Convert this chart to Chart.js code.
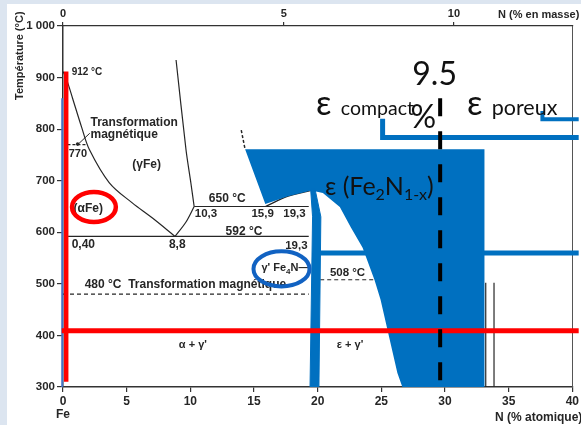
<!DOCTYPE html>
<html><head><meta charset="utf-8">
<script src="https://cdn.jsdelivr.net/npm/chart.js@4.4.0/dist/chart.umd.min.js"></script>
<style>html,body{margin:0;padding:0;background:#dce5f0;}canvas{display:block;}</style>
</head><body>
<canvas id="c" width="581" height="425"></canvas>
<script>
// ---------------- data ----------------
const atomicTicks = [0, 5, 10, 15, 20, 25, 30, 35, 40];          // N (% atomique)
const massTicks = [0, 5, 10];                                    // N (% en masse)
const massTickLabels = ['0', '5', '10'];
const tempTicks = [300, 400, 500, 600, 700, 800, 900, 1000];
const tempTickLabels = ['300', '400', '500', '600', '700', '800', '900', '1 000'];

// phase-diagram boundaries (x = at.% N, y = °C)
const gammaLeftX  = [0, 0.3, 0.75, 1.46, 2.08, 3.64, 5.44, 7.0, 8.8];
const gammaLeftT  = [912, 895, 860, 804, 760, 696, 657, 628, 592];
const gammaRightX = [8.88, 9.66, 10.04, 10.3];
const gammaRightT = [934, 760, 696, 650];
const gammaLowX   = [8.8, 9.66, 10.3];
const gammaLowT   = [592, 620, 650];
const iso650X = [10.3, 19.3];  const iso650T = [650, 650];
const iso592X = [0.4, 19.3];   const iso592T = [592, 592];
const epsEdgeX = [15.9, 17.68, 19.5]; const epsEdgeT = [650, 670, 681];
const mag480X = [0, 19.3];     const mag480T = [480, 480];
const iso508X = [20.2, 24.5];  const iso508T = [508, 508];
const mag770X = [0.35, 1.9];   const mag770T = [770, 770];
const epsDashX = [14.0, 14.3]; const epsDashT = [798, 761];
const v33aX = [33.2, 33.2];    const v33aT = [502, 300];
const v33bX = [33.85, 33.85];  const v33bT = [502, 300];
const arrowX = [2.1, 1.2];     const arrowT = [792, 771];
const dotX = [1.15];           const dotT = [771];

// highlighted regions / marks
const epsZoneX = [14.3, 33.1, 33.1, 26.65, 26.26, 24.94, 24.47, 23.53, 22.6, 21.74, 20.41, 19.5, 17.68, 15.89, 14.3];
const epsZoneT = [761, 761, 300, 300, 327, 469, 507, 570, 610, 649, 676, 681, 670, 655, 761];
const gpBarX = [19.45, 19.6, 19.4, 20.1, 20.25, 19.8, 19.45];
const gpBarT = [683, 630, 300, 300, 630, 683, 683];
const redVX = [0.25, 0.25];    const redVT = [912, 310];
const blueVX = [-0.06, -0.06]; const blueVT = [860, 300];
const redHX = [-0.1, 40.5];    const redHT = [409, 409];
const blueHX = [20.2, 40.5];   const blueHT = [560, 560];
const brk1X = [25.1, 25.1, 40.5]; const brk1T = [820, 784, 784];
const brk2X = [37.65, 37.65, 40.5]; const brk2T = [835, 819, 819];
const n95X = [29.62, 29.62];   const n95T = [860, 300];

// ---------------- helpers ----------------
const pts = (xs, ts) => xs.map((x, i) => ({x, y: ts[i]}));
const massToAtomic = m => { const n = m / 14.007, fe = (100 - m) / 55.845; return 100 * n / (n + fe); };
const INK = '#262626', BLUE = '#0070C0', RED = '#ff0000';
function line(xs, ts, o) {
  return Object.assign({type: 'scatter', showLine: true, data: pts(xs, ts), pointRadius: 0,
    borderColor: INK, borderWidth: 1.2, fill: false, tension: 0, order: 100}, o || {});
}

const SF = 'Liberation Sans, Arial, sans-serif';
const BF = 'Lato, "Open Sans", "DejaVu Sans", sans-serif';
// annotations: [segments], x, y (data units)
const smallLabels = [
  {x: 0.68, y: 905, seg: [['912 °C', 'bold 10px ' + SF]]},
  {x: 2.16, y: 806, seg: [['Transformation', 'bold 12px ' + SF]]},
  {x: 2.16, y: 783, seg: [['magnétique', 'bold 12px ' + SF]]},
  {x: 0.45, y: 746, seg: [['770', 'bold 11px ' + SF]]},
  {x: 5.44, y: 725, seg: [['(γFe)', 'bold 12px ' + SF]]},
  {x: 0.52, y: 639, seg: [['-(αFe)', 'bold 12px ' + SF]]},
  {x: 11.45, y: 659, seg: [['650 °C', 'bold 12px ' + SF]]},
  {x: 10.35, y: 630, seg: [['10,3', 'bold 11.5px ' + SF]]},
  {x: 14.8, y: 630, seg: [['15,9', 'bold 11.5px ' + SF]]},
  {x: 17.3, y: 630, seg: [['19,3', 'bold 11.5px ' + SF]]},
  {x: 12.77, y: 595, seg: [['592 °C', 'bold 12px ' + SF]]},
  {x: 0.68, y: 570, seg: [['0,40', 'bold 12px ' + SF]]},
  {x: 8.32, y: 570, seg: [['8,8', 'bold 12px ' + SF]]},
  {x: 17.45, y: 568, seg: [['19,3', 'bold 11.5px ' + SF]]},
  {x: 15.58, y: 525, seg: [["γ' Fe", 'bold 11px ' + SF], ['4', 'bold 8px ' + SF, 3], ['N—', 'bold 11px ' + SF]]},
  {x: 20.96, y: 515, seg: [['508 °C', 'bold 11.5px ' + SF]]},
  {x: 1.7, y: 492, seg: [['480 °C  Transformation magnétique', 'bold 12px ' + SF]]},
  {x: 9.1, y: 376, seg: [["α + γ'", 'bold 11px ' + SF]]},
  {x: 21.5, y: 376, seg: [["ε + γ'", 'bold 11px ' + SF]]}
];
const bigLabels = [
  {x: 27.43, y: 886, seg: [['9.5', '32px ' + BF]]},
  {x: 27.3, y: 802, seg: [['%', '32px ' + BF]]},
  {x: 19.87, y: 827, seg: [['ε', '34px ' + BF]]},
  {x: 21.82, y: 827, seg: [['compact', '19.5px ' + BF]]},
  {x: 31.72, y: 827, seg: [['ε', '34px ' + BF]]},
  {x: 33.67, y: 827, seg: [['poreux', '21.5px ' + BF]]},
  {x: 20.57, y: 672, seg: [['ε (Fe', '25px ' + BF], ['2', '16px ' + BF, 5], ['N', '25px ' + BF], ['1-x', '16px ' + BF, 5], [')', '25px ' + BF]]}
];
const ellipses = [
  {cx: 2.43, cy: 649, rx: 1.72, ry: 29, color: RED, w: 4.5},
  {cx: 17.16, cy: 529, rx: 2.2, ry: 34, color: '#1162c2', w: 4}
];

function drawSeg(ctx, x, y, seg) {
  ctx.textAlign = 'left'; ctx.textBaseline = 'alphabetic';
  for (const s of seg) {
    ctx.font = s[1];
    ctx.fillText(s[0], x, y + (s[2] || 0));
    x += ctx.measureText(s[0]).width;
  }
}

const decor = {
  id: 'decor',
  beforeDraw(chart) {
    const ctx = chart.ctx;
    ctx.save();
    ctx.fillStyle = '#dce5f0'; ctx.fillRect(0, 0, chart.width, chart.height);
    ctx.fillStyle = '#ffffff'; ctx.fillRect(7, 4, chart.width - 7, chart.height - 4);
    ctx.restore();
  },
  afterDatasetsDraw(chart) {
    const ctx = chart.ctx, xs = chart.scales.x, ys = chart.scales.y;
    const X = v => xs.getPixelForValue(v), Y = v => ys.getPixelForValue(v);
    ctx.save();
    ctx.fillStyle = INK;
    for (const l of smallLabels) drawSeg(ctx, X(l.x), Y(l.y), l.seg);
    for (const e of ellipses) {
      ctx.beginPath();
      ctx.strokeStyle = e.color; ctx.lineWidth = e.w;
      ctx.ellipse(X(e.cx), Y(e.cy), Math.abs(X(e.cx + e.rx) - X(e.cx)), Math.abs(Y(e.cy + e.ry) - Y(e.cy)), 0, 0, Math.PI * 2);
      ctx.stroke();
    }
    ctx.fillStyle = '#111';
    for (const l of bigLabels) drawSeg(ctx, X(l.x), Y(l.y), l.seg);
    // axis titles
    const ca = chart.chartArea;
    ctx.fillStyle = INK;
    ctx.font = 'bold 12px ' + SF;
    ctx.textAlign = 'center'; ctx.textBaseline = 'alphabetic';
    ctx.fillText('Fe', X(0), ca.bottom + 31);
    ctx.textAlign = 'right';
    ctx.fillText('N (% atomique)', ca.right + 10, ca.bottom + 34);
    ctx.font = 'bold 11px ' + SF;
    ctx.fillText('N (% en masse)', ca.right + 7, ca.top - 8);
    ctx.translate(20, 100); ctx.rotate(-Math.PI / 2);
    ctx.textAlign = 'left'; ctx.textBaseline = 'middle';
    ctx.fillText('Température (°C)', 0, 0);
    ctx.restore();
  }
};

const datasets = [
  // black diagram lines (bottom layer)
  line(gammaLeftX, gammaLeftT, {tension: 0.35}),
  line(gammaRightX, gammaRightT, {tension: 0.3}),
  line(gammaLowX, gammaLowT, {tension: 0.3}),
  line(iso650X, iso650T),
  line(iso592X, iso592T),
  line(epsEdgeX, epsEdgeT, {tension: 0.3}),
  line(mag480X, mag480T, {borderDash: [4, 3]}),
  line(iso508X, iso508T, {borderDash: [4, 3]}),
  line(mag770X, mag770T, {borderDash: [3, 2]}),
  line(epsDashX, epsDashT, {borderDash: [3, 2], borderWidth: 1.5}),
  line(v33aX, v33aT),
  line(v33bX, v33bT),
  line(arrowX, arrowT, {borderWidth: 1}),
  {type: 'scatter', data: pts(dotX, dotT), pointRadius: 1.8, backgroundColor: INK, borderWidth: 0, order: 100},
  // blue regions
  line(epsZoneX, epsZoneT, {borderWidth: 0, borderColor: BLUE, backgroundColor: BLUE, fill: 'shape', order: 90}),
  line(gpBarX, gpBarT, {borderWidth: 1, borderColor: BLUE, backgroundColor: BLUE, fill: 'shape', order: 85}),
  line(blueVX, blueVT, {borderColor: '#4472c4', borderWidth: 2, order: 82, clip: false}),
  line(blueHX, blueHT, {borderColor: BLUE, borderWidth: 5, order: 80, clip: false}),
  line(brk1X, brk1T, {borderColor: BLUE, borderWidth: 5, order: 80, clip: false}),
  line(brk2X, brk2T, {borderColor: BLUE, borderWidth: 4, order: 80, clip: false}),
  // red marks
  line(redVX, redVT, {borderColor: RED, borderWidth: 4.5, order: 70, clip: false}),
  line(redHX, redHT, {borderColor: RED, borderWidth: 5, order: 70, clip: false}),
  // 9.5 % line
  line(n95X, n95T, {borderColor: '#000', borderWidth: 4, borderDash: [18, 15], order: 60, clip: false})
];

const tickFont = size => ({family: SF, weight: 'bold', size});
new Chart(document.getElementById('c'), {
  type: 'scatter',
  data: {datasets},
  plugins: [decor],
  options: {
    responsive: false, animation: false, devicePixelRatio: 1,
    layout: {padding: 0},
    plugins: {legend: {display: false}, tooltip: {enabled: false}},
    scales: {
      x: {type: 'linear', position: 'bottom', min: 0, max: 40,
        afterBuildTicks: s => { s.ticks = atomicTicks.map(v => ({value: v})); },
        afterFit: s => { s.height = 38; },
        ticks: {font: tickFont(12), color: INK, padding: 2, maxRotation: 0, autoSkip: false},
        grid: {display: true, drawOnChartArea: false, drawTicks: true, tickLength: 5, color: '#333', lineWidth: 1.2},
        border: {display: true, color: '#333', width: 1.5}},
      xTop: {type: 'linear', position: 'top', min: 0, max: 40,
        afterBuildTicks: s => { s.ticks = massTicks.map(m => ({value: massToAtomic(m)})); },
        afterFit: s => { s.height = 26; },
        ticks: {font: tickFont(11), color: INK, padding: 1, maxRotation: 0, autoSkip: false,
          callback: (v, i) => massTickLabels[i]},
        grid: {display: true, drawOnChartArea: false, drawTicks: true, tickLength: 4, color: '#333', lineWidth: 1.2},
        border: {display: true, color: '#333', width: 1.3}},
      y: {type: 'linear', position: 'left', min: 300, max: 1000,
        afterBuildTicks: s => { s.ticks = tempTicks.map(v => ({value: v})); },
        afterFit: s => { s.width = 63; },
        ticks: {font: tickFont(11.5), color: INK, padding: 2, autoSkip: false,
          callback: (v, i) => tempTickLabels[i]},
        grid: {display: true, drawOnChartArea: false, drawTicks: true, tickLength: 6, color: '#333', lineWidth: 1.2},
        border: {display: true, color: '#333', width: 1.5}},
      yR: {type: 'linear', position: 'right', min: 300, max: 1000,
        afterFit: s => { s.width = 5; },
        ticks: {display: false}, grid: {display: false},
        border: {display: true, color: '#555', width: 1}}
    }
  }
});
</script>
</body></html>
